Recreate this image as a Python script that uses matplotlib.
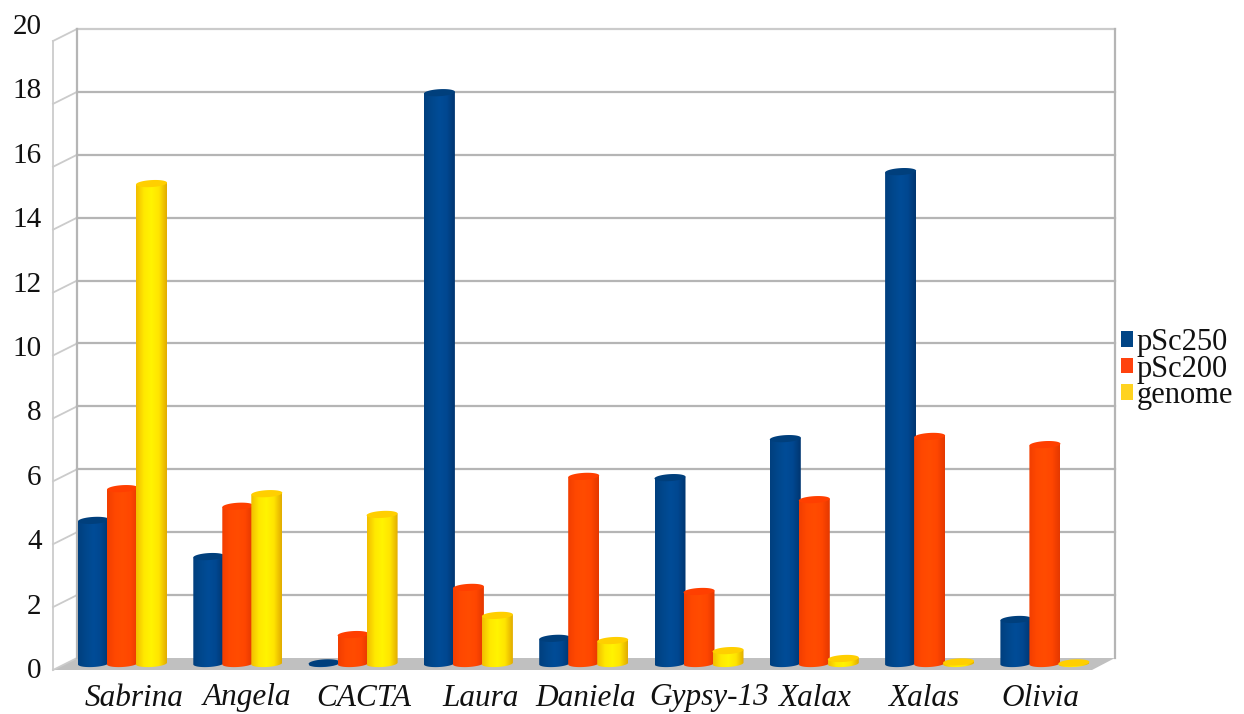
import numpy as np
import matplotlib
matplotlib.use("Agg")
import matplotlib.pyplot as plt
from matplotlib.colors import LinearSegmentedColormap
from matplotlib.patches import PathPatch, Patch, Polygon
from matplotlib.path import Path

plt.rcParams["font.family"] = ["Liberation Serif", "DejaVu Serif"]

# ---- data ----
elements = ["Sabrina", "Angela", "CACTA", "Laura", "Daniela", "Gypsy-13", "Xalax", "Xalas", "Olivia"]
psc250 = [4.55, 3.40, 0.02, 18.15, 0.80, 5.91, 7.15, 15.64, 1.40]
psc200 = [5.56, 5.00, 0.92, 2.42, 5.95, 2.29, 5.21, 7.22, 6.96]
genome = [15.26, 5.40, 4.74, 1.53, 0.73, 0.41, 0.16, 0.05, 0.02]
y_ticks = list(range(0, 21, 2))

series_names = ["pSc250", "pSc200", "genome"]
series_values = [psc250, psc200, genome]

# ---- layout, in figure pixels ----
W, H = 1244, 714
GROUP_STEP = 115.3
FIRST_CENTRE = 122.5
UNIT = 31.45
ZERO_Y = 663.5
BAR_W = 31.0
BAR_STEP = 29.0
CAP = 3.5
TILT = 1.8
LABEL_X = [134, 247, 364, 481, 586, 709, 814, 924, 1040]

fig = plt.figure(figsize=(W / 100, H / 100), dpi=100)
ax = fig.add_axes([0, 0, 1, 1])
xlim = (-FIRST_CENTRE / GROUP_STEP, (W - FIRST_CENTRE) / GROUP_STEP)
ylim = ((ZERO_Y - H) / UNIT, ZERO_Y / UNIT)
ax.axis("off")


def px(x):
    return (x - FIRST_CENTRE) / GROUP_STEP


def py(y):
    return (ZERO_Y - y) / UNIT


# ---- back wall, side wall and floor ----
WALL = "#b5b5b5"
SIDE = "#cbcbcb"
BACK_L, BACK_R, FRONT_L, FRONT_R = 77, 1115, 53, 1092
BACK_0, FRONT_0 = 658, 670
ax.add_patch(Polygon([(px(FRONT_L), py(FRONT_0)), (px(BACK_L), py(BACK_0)),
                      (px(BACK_R), py(BACK_0)), (px(FRONT_R), py(FRONT_0))],
                     closed=True, fc="#c0c0c0", ec="none", zorder=1))
for v in y_ticks:
    back = py(BACK_0) + v
    front = py(FRONT_0) + v
    if v > 0:
        ax.plot([px(BACK_L), px(BACK_R)], [back, back], color=WALL if v < 20 else SIDE,
                lw=1.6, zorder=1.5)
    ax.plot([px(FRONT_L), px(BACK_L)], [front, back], color=SIDE, lw=1.3, zorder=1.5)
ax.plot([px(BACK_L)] * 2, [py(BACK_0), py(BACK_0) + 20], color=WALL, lw=1.6, zorder=1.5)
ax.plot([px(BACK_R)] * 2, [py(BACK_0), py(BACK_0) + 20], color=WALL, lw=1.6, zorder=1.5)
ax.plot([px(FRONT_L)] * 2, [py(FRONT_0), py(FRONT_0) + 20], color=SIDE, lw=1.3, zorder=1.5)

# ---- cylinders: side gradient, clipped body, flat top cap, both ends slightly tilted ----
ramps = [
    (["#003f7e", "#00478c", "#004c97", "#004790", "#003670"], "#003f7c"),
    (["#f23e00", "#ff4800", "#ff4c00", "#ff4600", "#e43800"], "#ff3f00"),
    (["#f2bd00", "#ffe800", "#fff400", "#ffe400", "#e2ac00"], "#ffcf00"),
]
bar_w = BAR_W / GROUP_STEP
cap_h = CAP / UNIT
tilt_h = TILT / 2 / UNIT
t = np.linspace(0, 2 * np.pi, 80)


def disc(cx, level, angles):
    """Tilted ellipse outline centred on (cx, level)."""
    return np.column_stack([cx + np.cos(angles) * bar_w / 2,
                            level + np.sin(angles) * cap_h + np.cos(angles) * tilt_h])


for s, values in enumerate(series_values):
    cmap = LinearSegmentedColormap.from_list(series_names[s], ramps[s][0])
    for i, v in enumerate(values):
        cx = i + (s - 1) * BAR_STEP / GROUP_STEP
        z = 3 + s
        left, right = cx - bar_w / 2, cx + bar_w / 2
        # outline: rounded base from left to right, then straight up and across
        base = disc(cx, 0, np.linspace(np.pi, 2 * np.pi, 40))
        top = disc(cx, v, np.array([0.0, np.pi]))
        pts = np.vstack([base, top, base[:1]])
        clip = PathPatch(Path(pts, closed=True), transform=ax.transData, fc="none", ec="none")
        ax.add_patch(clip)
        im = ax.imshow(np.linspace(0, 1, 64)[None, :], cmap=cmap, aspect="auto",
                       extent=(left, right, -cap_h - tilt_h, v + cap_h + tilt_h), zorder=z)
        im.set_clip_path(clip)
        ax.add_patch(Polygon(disc(cx, v, t), closed=True, fc=ramps[s][1], ec="none", zorder=z + 0.1))

ax.set_xlim(*xlim)
ax.set_ylim(*ylim)

# ---- category labels ----
for name, x in zip(elements, LABEL_X):
    ax.text(px(x), py(698), name, style="italic", fontsize=22.5, ha="center", va="center",
            color="#111111", zorder=8)

# ---- value axis, set slightly apart from the wall as a separate scale ----
tick_ax = fig.add_axes([0, (H - 668) / H, 42 / W, (668 - 24) / H])
tick_ax.set_ylim(0, 20)
tick_ax.set_xlim(0, 1)
tick_ax.patch.set_visible(False)
for sp in tick_ax.spines.values():
    sp.set_visible(False)
tick_ax.set_xticks([])
tick_ax.set_yticks(y_ticks)
tick_ax.tick_params(axis="y", length=0, pad=-30, labelsize=21, labelcolor="#111111")

# ---- legend ----
handles = [Patch(fc=c, ec="none") for c in ["#004586", "#ff420e", "#ffd320"]]
ax.legend(handles, series_names, loc="center left", bbox_to_anchor=(1121 / W, 1 - 369 / H),
          bbox_transform=fig.transFigure, frameon=False, fontsize=22, handlelength=0.4,
          handleheight=0.4, handletextpad=0.12, labelspacing=-0.08, borderpad=0, borderaxespad=0,
          labelcolor="#111111")

fig.savefig("out.png", dpi=100, facecolor="white")
